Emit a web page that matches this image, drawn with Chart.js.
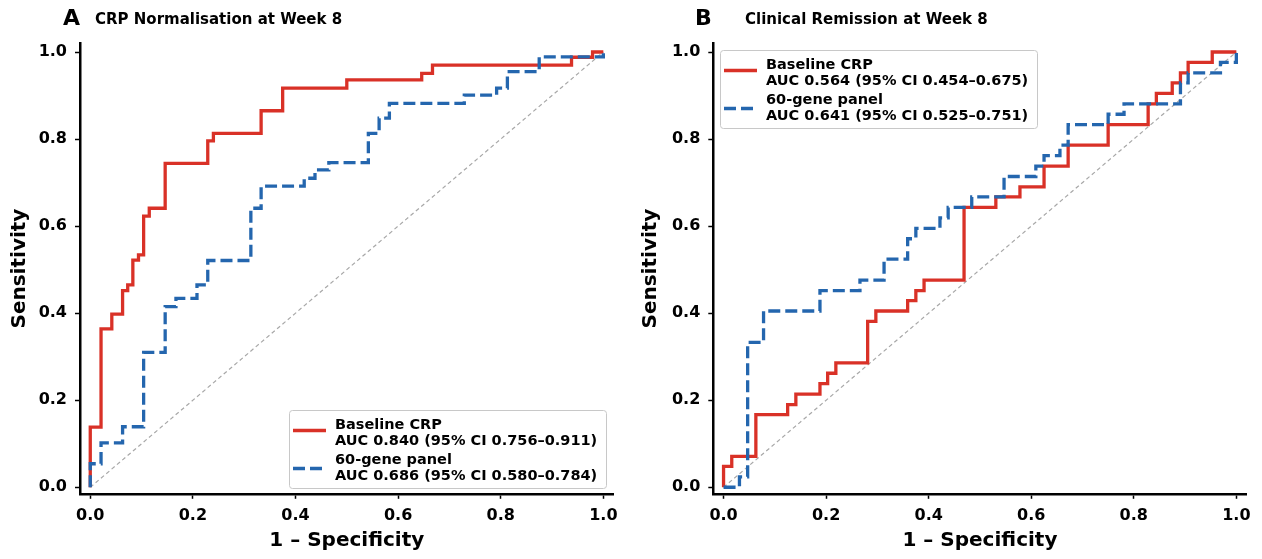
<!DOCTYPE html>
<html>
<head>
<meta charset="utf-8">
<script src="https://cdn.jsdelivr.net/npm/chart.js@4.4.1/dist/chart.umd.min.js"></script>
<style>
  html, body { margin: 0; padding: 0; background: #fff; }
  #wrap { position: relative; width: 1262px; height: 559px; }
  canvas { position: absolute; top: 0; }
</style>
</head>
<body>
<div id="wrap">
  <canvas id="chartA" width="631" height="559" style="left:0"></canvas>
  <canvas id="chartB" width="631" height="559" style="left:631px"></canvas>
</div>
<script>
const tickValues = [0, 0.2, 0.4, 0.6, 0.8, 1.0];
const seriesNames = ['Baseline CRP', '60-gene panel'];

// panel A: CRP normalisation at week 8 (ROC corner points)
const aCrpFpr = [0, 0, 0.021, 0.021, 0.042, 0.042, 0.063, 0.063, 0.073, 0.073, 0.083, 0.083, 0.094, 0.094, 0.104, 0.104, 0.115, 0.115, 0.146, 0.146, 0.229, 0.229, 0.240, 0.240, 0.333, 0.333, 0.375, 0.375, 0.5, 0.5, 0.646, 0.646, 0.667, 0.667, 0.938, 0.938, 0.979, 0.979, 1];
const aCrpTpr = [0, 0.138, 0.138, 0.364, 0.364, 0.398, 0.398, 0.452, 0.452, 0.465, 0.465, 0.522, 0.522, 0.534, 0.534, 0.623, 0.623, 0.641, 0.641, 0.744, 0.744, 0.796, 0.796, 0.813, 0.813, 0.865, 0.865, 0.917, 0.917, 0.936, 0.936, 0.951, 0.951, 0.970, 0.970, 0.988, 0.988, 1, 1];
const aGeneFpr = [0, 0, 0.021, 0.021, 0.063, 0.063, 0.104, 0.104, 0.146, 0.146, 0.167, 0.167, 0.208, 0.208, 0.229, 0.229, 0.313, 0.313, 0.333, 0.333, 0.417, 0.417, 0.438, 0.438, 0.465, 0.465, 0.542, 0.542, 0.563, 0.563, 0.583, 0.583, 0.729, 0.729, 0.792, 0.792, 0.813, 0.813, 0.875, 0.875, 1, 1];
const aGeneTpr = [0, 0.054, 0.054, 0.102, 0.102, 0.139, 0.139, 0.310, 0.310, 0.415, 0.415, 0.434, 0.434, 0.465, 0.465, 0.521, 0.521, 0.641, 0.641, 0.692, 0.692, 0.710, 0.710, 0.729, 0.729, 0.746, 0.746, 0.813, 0.813, 0.848, 0.848, 0.882, 0.882, 0.901, 0.901, 0.917, 0.917, 0.955, 0.955, 0.989, 0.989, 1];
const aAucLabels = ['AUC 0.840 (95% CI 0.756–0.911)', 'AUC 0.686 (95% CI 0.580–0.784)'];

// panel B: clinical remission at week 8
const bCrpFpr = [0, 0, 0.016, 0.016, 0.063, 0.063, 0.125, 0.125, 0.141, 0.141, 0.188, 0.188, 0.203, 0.203, 0.219, 0.219, 0.281, 0.281, 0.297, 0.297, 0.359, 0.359, 0.375, 0.375, 0.391, 0.391, 0.469, 0.469, 0.531, 0.531, 0.578, 0.578, 0.625, 0.625, 0.672, 0.672, 0.750, 0.750, 0.828, 0.828, 0.844, 0.844, 0.875, 0.875, 0.891, 0.891, 0.906, 0.906, 0.953, 0.953, 1];
const bCrpTpr = [0, 0.048, 0.048, 0.071, 0.071, 0.167, 0.167, 0.190, 0.190, 0.214, 0.214, 0.238, 0.238, 0.262, 0.262, 0.286, 0.286, 0.381, 0.381, 0.405, 0.405, 0.429, 0.429, 0.452, 0.452, 0.476, 0.476, 0.643, 0.643, 0.667, 0.667, 0.690, 0.690, 0.738, 0.738, 0.786, 0.786, 0.833, 0.833, 0.881, 0.881, 0.905, 0.905, 0.929, 0.929, 0.952, 0.952, 0.976, 0.976, 1, 1];
const bGeneFpr = [0, 0.031, 0.031, 0.047, 0.047, 0.078, 0.078, 0.188, 0.188, 0.266, 0.266, 0.313, 0.313, 0.359, 0.359, 0.375, 0.375, 0.422, 0.422, 0.438, 0.438, 0.484, 0.484, 0.547, 0.547, 0.609, 0.609, 0.625, 0.625, 0.656, 0.656, 0.672, 0.672, 0.750, 0.750, 0.781, 0.781, 0.891, 0.891, 0.906, 0.906, 0.969, 0.969, 1, 1];
const bGeneTpr = [0, 0, 0.024, 0.024, 0.333, 0.333, 0.405, 0.405, 0.452, 0.452, 0.476, 0.476, 0.524, 0.524, 0.571, 0.571, 0.595, 0.595, 0.619, 0.619, 0.643, 0.643, 0.667, 0.667, 0.714, 0.714, 0.738, 0.738, 0.762, 0.762, 0.786, 0.786, 0.833, 0.833, 0.857, 0.857, 0.881, 0.881, 0.929, 0.929, 0.952, 0.952, 0.976, 0.976, 1];
const bAucLabels = ['AUC 0.564 (95% CI 0.454–0.675)', 'AUC 0.641 (95% CI 0.525–0.751)'];

const chanceLine = [0, 1];

const RED = '#d93127';
const BLUE = '#2466ae';
const FONT = "'DejaVu Sans', sans-serif";

Chart.defaults.font.family = FONT;
Chart.defaults.color = '#000';

function pts(xs, ys) {
  return xs.map((x, i) => ({ x: x, y: ys[i] }));
}

// titles, axis labels and the legend box are drawn by hand
const decor = {
  id: 'decor',
  afterDatasetsDraw(chart, args, o) {
    const c = chart.ctx;
    const area = chart.chartArea;
    c.save();
    c.fillStyle = '#000';
    c.textBaseline = 'middle';

    c.font = 'bold 22px ' + FONT;
    c.fillText(o.letter, o.letterX, 19);
    c.font = 'bold 15px ' + FONT;
    c.fillText(o.title, o.titleX, 20);

    c.font = 'bold 20px ' + FONT;
    c.textAlign = 'center';
    c.fillText('1 – Specificity', (area.left + area.right) / 2, 541);
    c.save();
    c.translate(20, (area.top + area.bottom) / 2);
    c.rotate(-Math.PI / 2);
    c.fillText('Sensitivity', 0, 0);
    c.restore();

    // legend
    const b = o.box;
    c.textAlign = 'left';
    c.beginPath();
    c.roundRect(b.x + 0.5, b.y + 0.5, b.w, b.h, 3);
    c.fillStyle = 'rgba(255,255,255,0.85)';
    c.fill();
    c.strokeStyle = '#c8c8c8';
    c.lineWidth = 1;
    c.stroke();

    c.lineWidth = 3.3;
    c.strokeStyle = RED;
    c.setLineDash([]);
    c.beginPath();
    c.moveTo(b.x + 4, b.y + 20.5);
    c.lineTo(b.x + 37, b.y + 20.5);
    c.stroke();
    c.strokeStyle = BLUE;
    c.setLineDash([12, 5]);
    c.beginPath();
    c.moveTo(b.x + 4, b.y + 58.5);
    c.lineTo(b.x + 37, b.y + 58.5);
    c.stroke();
    c.setLineDash([]);

    c.fillStyle = '#000';
    c.font = 'bold 14.5px ' + FONT;
    const tx = b.x + 46;
    c.fillText(seriesNames[0], tx, b.y + 15);
    c.fillText(o.auc[0], tx, b.y + 31.5);
    c.fillText(seriesNames[1], tx, b.y + 50);
    c.fillText(o.auc[1], tx, b.y + 66.5);
    c.restore();
  }
};

function makeChart(id, crpFpr, crpTpr, geneFpr, geneTpr, opts) {
  const axisCommon = {
    type: 'linear',
    afterBuildTicks: s => { s.ticks = tickValues.map(v => ({ value: v })); },
    ticks: {
      callback: v => v.toFixed(1),
      font: { size: 16, weight: 'bold' },
      color: '#000',
      autoSkip: false,
      maxRotation: 0
    },
    grid: {
      display: true,
      drawOnChartArea: false,
      drawTicks: true,
      tickLength: 5,
      tickWidth: 1.5,
      tickColor: '#000'
    },
    border: { display: true, color: '#000', width: 2.5 }
  };

  return new Chart(document.getElementById(id), {
    type: 'scatter',
    data: {
      datasets: [
        {
          label: seriesNames[0],
          data: pts(crpFpr, crpTpr),
          showLine: true,
          borderColor: RED,
          borderWidth: 3.3,
          pointRadius: 0,
          order: 2
        },
        {
          label: seriesNames[1],
          data: pts(geneFpr, geneTpr),
          showLine: true,
          borderColor: BLUE,
          borderWidth: 3.3,
          borderDash: [12, 5],
          pointRadius: 0,
          order: 1
        },
        {
          label: 'chance',
          data: pts(chanceLine, chanceLine),
          showLine: true,
          borderColor: '#a8a8a8',
          borderWidth: 1.2,
          borderDash: [4, 3],
          pointRadius: 0,
          order: 3
        }
      ]
    },
    options: {
      responsive: false,
      animation: false,
      events: [],
      layout: { padding: { left: 0, top: 43.3, right: opts.padRight, bottom: 0 } },
      plugins: {
        legend: { display: false },
        tooltip: { enabled: false },
        decor: opts.decor
      },
      scales: {
        x: Object.assign({}, axisCommon, {
          min: -0.02, max: 1.02,
          ticks: Object.assign({}, axisCommon.ticks, { padding: 7 }),
          afterFit: s => { s.height = 65.2; }
        }),
        y: Object.assign({}, axisCommon, {
          min: -0.015, max: 1.02,
          ticks: Object.assign({}, axisCommon.ticks, { padding: 8 }),
          afterFit: s => { s.width = opts.yWidth; }
        })
      }
    },
    plugins: [decor]
  });
}

makeChart('chartA', aCrpFpr, aCrpTpr, aGeneFpr, aGeneTpr, {
  padRight: 17.4,
  yWidth: 80,
  decor: {
    letter: 'A', letterX: 63,
    title: 'CRP Normalisation at Week 8', titleX: 95,
    auc: aAucLabels,
    box: { x: 289, y: 410, w: 317, h: 78 }
  }
});

makeChart('chartB', bCrpFpr, bCrpTpr, bGeneFpr, bGeneTpr, {
  padRight: 15.4,
  yWidth: 82.3,
  decor: {
    letter: 'B', letterX: 64,
    title: 'Clinical Remission at Week 8', titleX: 114,
    auc: bAucLabels,
    box: { x: 89, y: 50, w: 317, h: 78 }
  }
});
</script>
</body>
</html>
